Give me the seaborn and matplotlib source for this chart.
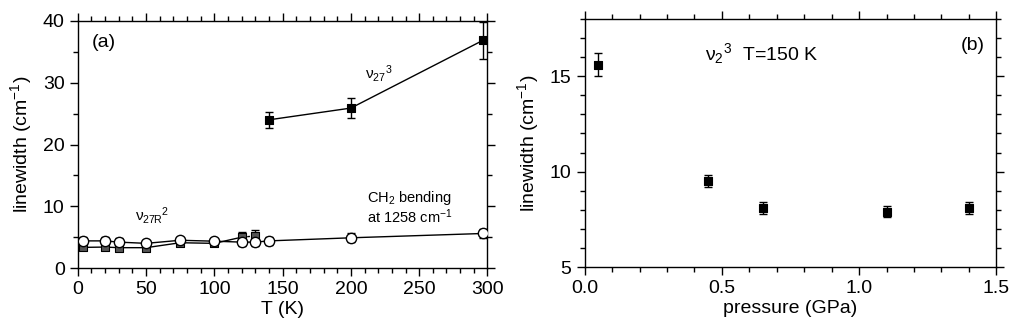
import numpy as np
import pandas as pd
import matplotlib
matplotlib.use('Agg')
import matplotlib.pyplot as plt
from matplotlib.ticker import MultipleLocator
import seaborn as sns

# ---- data ----
# (a) nu27^3 band
t_hi = [140, 200, 297]
w_hi = [24.0, 25.9, 36.9]
e_hi = [1.3, 1.6, 3.0]

# (a) nu27R^2 band (grey squares)
t_sq = [4, 20, 30, 50, 75, 100, 120, 130]
w_sq = [3.35, 3.4, 3.3, 3.3, 4.1, 4.0, 5.0, 5.2]
e_sq = [0.5, 0.5, 0.5, 0.5, 0.4, 0.4, 0.8, 0.9]

# (a) CH2 bending at 1258 cm-1 (open circles)
t_ci = [4, 20, 30, 50, 75, 100, 120, 130, 140, 200, 297]
w_ci = [4.4, 4.4, 4.2, 4.0, 4.5, 4.35, 4.2, 4.2, 4.4, 4.9, 5.6]
e_ci = [0.6, 0.6, 0.6, 0.5, 0.5, 0.5, 0.6, 0.7, 0.7, 0.7, 0.8]

# (b) nu2^3 at T=150 K vs pressure
p_b = [0.05, 0.45, 0.65, 1.10, 1.40]
w_b = [15.6, 9.5, 8.1, 7.9, 8.1]
e_b = [0.6, 0.3, 0.3, 0.3, 0.3]

sns.set_theme(style='ticks')
plt.rcParams['font.family'] = ['Liberation Sans', 'DejaVu Sans']
plt.rcParams['mathtext.fontset'] = 'custom'
plt.rcParams['mathtext.rm'] = 'Liberation Sans'
plt.rcParams['mathtext.it'] = 'Liberation Sans'
plt.rcParams['mathtext.default'] = 'regular'
plt.rcParams['text.color'] = 'black'
plt.rcParams['axes.labelcolor'] = 'black'

fig = plt.figure(figsize=(10.24, 3.33), dpi=100)
ax1 = fig.add_axes([0.076, 0.195, 0.400, 0.742])
ax2 = fig.add_axes([0.571, 0.198, 0.402, 0.745])

def style_axis(ax):
    for sp in ax.spines.values():
        sp.set_visible(True)
        sp.set_color('black')
        sp.set_linewidth(1.0)
    ax.tick_params(which='both', direction='out', top=True, right=True,
                   colors='black', labelcolor='black', labelsize=14, width=1.0)
    ax.tick_params(which='major', length=6)
    ax.tick_params(which='minor', length=3.5)
    ax.tick_params(labeltop=False, labelright=False)
    ax.grid(False)

# ---- panel (a) ----
df_hi = pd.DataFrame({'T': t_hi, 'w': w_hi})
df_sq = pd.DataFrame({'T': t_sq, 'w': w_sq})
df_ci = pd.DataFrame({'T': t_ci, 'w': w_ci})

ax1.errorbar(t_ci, w_ci, yerr=e_ci, fmt='none', ecolor='black', elinewidth=1, capsize=3, zorder=2)
ax1.errorbar(t_sq, w_sq, yerr=e_sq, fmt='none', ecolor='black', elinewidth=1, capsize=3, zorder=2)
ax1.errorbar(t_hi, w_hi, yerr=e_hi, fmt='none', ecolor='black', elinewidth=1, capsize=3, zorder=2)

sns.lineplot(data=df_sq.iloc[:7], x='T', y='w', ax=ax1, color='black', lw=1, zorder=3)
sns.lineplot(data=df_sq.iloc[6:], x='T', y='w', ax=ax1, color='black', lw=1, ls=(0, (2, 2)), zorder=3)
sns.lineplot(data=df_ci, x='T', y='w', ax=ax1, color='black', lw=1, zorder=3)
sns.lineplot(data=df_hi, x='T', y='w', ax=ax1, color='black', lw=1, zorder=3)

sns.scatterplot(data=df_sq, x='T', y='w', ax=ax1, marker='s', s=40, color='#555555',
                edgecolor='black', linewidth=0.8, zorder=4)
sns.scatterplot(data=df_ci, x='T', y='w', ax=ax1, marker='o', s=55, color='white',
                edgecolor='black', linewidth=1, zorder=5)
sns.scatterplot(data=df_hi, x='T', y='w', ax=ax1, marker='s', s=40, color='black',
                edgecolor='black', linewidth=0.8, zorder=4)

ax1.set_xlim(0, 300)
ax1.set_ylim(0, 40)
ax1.xaxis.set_major_locator(MultipleLocator(50))
ax1.xaxis.set_minor_locator(MultipleLocator(10))
ax1.yaxis.set_major_locator(MultipleLocator(10))
ax1.yaxis.set_minor_locator(MultipleLocator(5))
ax1.set_xlabel('T (K)', fontsize=14, labelpad=2)
ax1.set_ylabel('linewidth (cm$^{-1}$)', fontsize=14, labelpad=6)
style_axis(ax1)

ax1.text(10, 36.5, '(a)', fontsize=14, va='center', ha='left')
ax1.text(210, 31.5, 'ν$_{27}$$^{3}$', fontsize=11, va='center', ha='left')
ax1.text(42, 8.5, 'ν$_{27R}$$^{2}$', fontsize=11, va='center', ha='left')
ax1.text(212, 11.3, 'CH$_2$ bending', fontsize=10.5, va='center', ha='left')
ax1.text(212, 8.3, 'at 1258 cm$^{-1}$', fontsize=10.5, va='center', ha='left')

# ---- panel (b) ----
df_b = pd.DataFrame({'p': p_b, 'w': w_b})
ax2.errorbar(p_b, w_b, yerr=e_b, fmt='none', ecolor='black', elinewidth=1, capsize=3, zorder=2)
sns.scatterplot(data=df_b, x='p', y='w', ax=ax2, marker='s', s=40, color='black',
                edgecolor='black', linewidth=0.8, zorder=4)

ax2.set_xlim(0, 1.5)
ax2.set_ylim(5, 18)
ax2.xaxis.set_major_locator(MultipleLocator(0.5))
ax2.xaxis.set_minor_locator(MultipleLocator(0.1))
ax2.yaxis.set_major_locator(MultipleLocator(5))
ax2.yaxis.set_minor_locator(MultipleLocator(1))
ax2.xaxis.set_major_formatter(matplotlib.ticker.FormatStrFormatter('%.1f'))
ax2.set_xlabel('pressure (GPa)', fontsize=14, labelpad=2)
ax2.set_ylabel('linewidth (cm$^{-1}$)', fontsize=14, labelpad=6)
style_axis(ax2)

ax2.text(0.44, 16.2, 'ν$_{2}$$^{3}$  T=150 K', fontsize=14, va='center', ha='left')
ax2.text(1.37, 16.6, '(b)', fontsize=14, va='center', ha='left')

fig.savefig('out.png', dpi=100)
